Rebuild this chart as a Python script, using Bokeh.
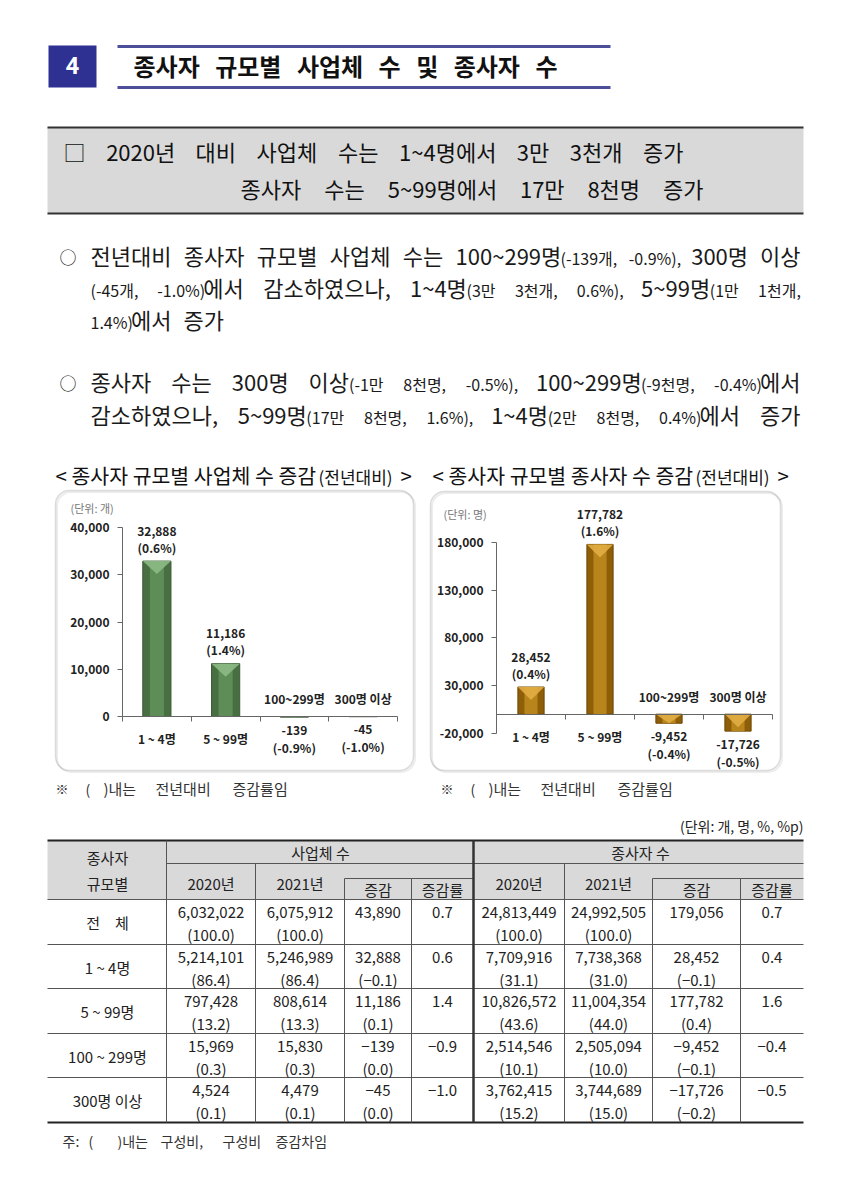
from bokeh.plotting import figure
from bokeh.models import (Range1d, LinearAxis, FixedTicker, NumeralTickFormatter,
                          BoxAnnotation, Spacer, ColumnDataSource)
from bokeh.layouts import column, row
from bokeh.core.properties import value
from bokeh.embed import file_html
from bokeh.resources import INLINE

KR = "Noto Sans CJK KR"

# ---------------- data ----------------
chart_categories = ["1 ~ 4명", "5 ~ 99명", "100~299명", "300명 이상"]
table_rows = ["전\u3000체", "1 ~ 4명", "5 ~ 99명", "100 ~ 299명", "300명 이상"]

biz_2020 = [6032022, 5214101, 797428, 15969, 4524]
biz_2020_share = [100.0, 86.4, 13.2, 0.3, 0.1]
biz_2021 = [6075912, 5246989, 808614, 15830, 4479]
biz_2021_share = [100.0, 86.4, 13.3, 0.3, 0.1]
biz_change = [43890, 32888, 11186, -139, -45]
biz_change_share = [None, -0.1, 0.1, 0.0, 0.0]
biz_rate = [0.7, 0.6, 1.4, -0.9, -1.0]

emp_2020 = [24813449, 7709916, 10826572, 2514546, 3762415]
emp_2020_share = [100.0, 31.1, 43.6, 10.1, 15.2]
emp_2021 = [24992505, 7738368, 11004354, 2505094, 3744689]
emp_2021_share = [100.0, 31.0, 44.0, 10.0, 15.0]
emp_change = [179056, 28452, 177782, -9452, -17726]
emp_change_share = [None, -0.1, 0.4, -0.1, -0.2]
emp_rate = [0.7, 0.4, 1.6, -0.4, -0.5]

biz_ticks = [0, 10000, 20000, 30000, 40000]
emp_ticks = [-20000, 30000, 80000, 130000, 180000]


# ---------------- helpers ----------------
def est(s, size):
    w = 0.0
    for ch in s:
        o = ord(ch)
        if 0xAC00 <= o <= 0xD7A3:
            w += 0.92
        elif ch in "○□※\u3000":
            w += 1.0
        elif ch.isdigit():
            w += 0.55
        elif ch in ",.:":
            w += 0.26
        elif ch in "()":
            w += 0.33
        elif ch == "-":
            w += 0.34
        elif ch == "%":
            w += 0.84
        elif ch == "~":
            w += 0.55
        elif ch == " ":
            w += 0.22
        else:
            w += 0.55
    return w * size


def txt(p, x, y, s, size, color="#1a1a1a", align="left", bold=False,
        font=KR, baseline="middle"):
    p.text(x=[x], y=[y], text=[s], text_font=value(font),
           text_font_size=f"{size}px", text_color=color, text_align=align,
           text_baseline=baseline,
           text_font_style="bold" if bold else "normal")


def justify(p, tokens, x0, x1, y_center, main_size, color="#1a1a1a",
            bold=False, gap=None):
    widths = [sum(est(t, s) for t, s in tok) for tok in tokens]
    n = len(tokens)
    if gap is None:
        gap = (x1 - x0 - sum(widths)) / (n - 1)
    x = x0
    for tok, w in zip(tokens, widths):
        cx = x
        for t, s in tok:
            # bottom-align smaller pieces with the main text
            yy = y_center - 2.5 + 0.45 * (main_size - s)
            txt(p, cx, yy, t, s, color, bold=bold)
            cx += est(t, s)
        x += w + gap


def fint(v):
    s = f"{abs(v):,}"
    return "\u2212" + s if v < 0 else s


def fshare(v):
    s = f"{abs(v):.1f}"
    return f"(\u2212{s})" if v < 0 else f"({s})"


def frate(v):
    s = f"{abs(v):.1f}"
    return "\u2212" + s if v < 0 else s


def blank(width, height, xr, yr):
    p = figure(width=width, height=height, x_range=Range1d(*xr),
               y_range=Range1d(*yr), output_backend="svg",
               toolbar_location=None, min_border=0,
               x_axis_location=None, y_axis_location=None,
               outline_line_color=None, background_fill_color="white",
               border_fill_color="white")
    p.xgrid.visible = False
    p.ygrid.visible = False
    return p


# ---------------- top section (page pixel coordinates) ----------------
TOP_H = 452
top = blank(850, TOP_H, (0, 850), (TOP_H, 0))

top.quad(left=[48], right=[96], top=[45], bottom=[87], fill_color="#2e3192",
         line_color=None)
txt(top, 72, 65, "4", 24, color="white", align="center", bold=True, font="Roboto")
top.segment(x0=[117, 117], y0=[46, 87], x1=[610, 610], y1=[46, 87],
            line_color="#4d4f9a", line_width=3)
T = 24
justify(top, [[("종사자", T)], [("규모별", T)], [("사업체", T)], [("수", T)],
              [("및", T)], [("종사자", T)], [("수", T)]],
        133, 557, 67, T, color="#111", bold=True)

top.quad(left=[47], right=[803], top=[127], bottom=[213], fill_color="#d9d9d9",
         line_color=None)
top.segment(x0=[47, 47], y0=[127, 213], x1=[803, 803], y1=[127, 213],
            line_color="#333", line_width=2)
H = 22
justify(top, [[("□", H)], [("2020년", H)], [("대비", H)], [("사업체", H)],
              [("수는", H)], [("1~4명에서", H)], [("3만", H)], [("3천개", H)],
              [("증가", H)]], 63, 683, 153, H, color="#111")
justify(top, [[("종사자", H)], [("수는", H)], [("5~99명에서", H)], [("17만", H)],
              [("8천명", H)], [("증가", H)]], 240, 703, 190, H, color="#111")

B, S = 22, 16
txt(top, 59, 256, "○", 17)
justify(top, [[("전년대비", B)], [("종사자", B)], [("규모별", B)], [("사업체", B)],
              [("수는", B)], [("100~299명", B), ("(-139개,", S)], [("-0.9%),", S)],
              [("300명", B)], [("이상", B)]], 90, 800, 257, B)
justify(top, [[("(-45개,", S)], [("-1.0%)", S), ("에서", B)], [("감소하였으나,", B)],
              [("1~4명", B), ("(3만", S)], [("3천개,", S)], [("0.6%),", S)],
              [("5~99명", B), ("(1만", S)], [("1천개,", S)]], 90, 800, 289, B)
justify(top, [[("1.4%)", S), ("에서", B)], [("증가", B)]], 90, 800, 321, B, gap=12)

txt(top, 59, 382, "○", 17)
justify(top, [[("종사자", B)], [("수는", B)], [("300명", B)], [("이상", B), ("(-1만", S)],
              [("8천명,", S)], [("-0.5%),", S)], [("100~299명", B), ("(-9천명,", S)],
              [("-0.4%)", S), ("에서", B)]], 90, 800, 383, B)
justify(top, [[("감소하였으나,", B)], [("5~99명", B), ("(17만", S)], [("8천명,", S)],
              [("1.6%),", S)], [("1~4명", B), ("(2만", S)], [("8천명,", S)],
              [("0.4%)", S), ("에서", B)], [("증가", B)]], 90, 800, 416, B)


# ---------------- charts ----------------
ROW_TOP, ROW_BOT = TOP_H, 774


def make_chart(vals, rates, fx, ox, oy, sx, sy, panel, ybounds, yticks,
               bar_w, c_dark, c_mid, c_tri, c_edge, title, unit_text, unit_px):
    X = lambda px: (px - ox) / sx
    Y = lambda py: (oy - py) / sy
    p = blank(fx[1] - fx[0], ROW_BOT - ROW_TOP, (X(fx[0]), X(fx[1])),
              (Y(ROW_BOT), Y(ROW_TOP)))
    for dx, col, lw in [(1.5, "#c4c4c4", 2.0), (0.0, "#8a8a8a", 1.5)]:
        kw = dict(left=X(panel[0] + dx), right=X(panel[1] + dx),
                  top=Y(panel[2] + dx), bottom=Y(panel[3] + dx),
                  fill_alpha=0, line_color=col, line_width=lw)
        try:
            box = BoxAnnotation(border_radius=14, **kw)
        except Exception:
            box = BoxAnnotation(**kw)
        p.add_layout(box)

    # title above the panel
    for t, tx, size in title:
        txt(p, X(tx), Y(474 + 0.45 * (20.5 - size)), t, size, color="#111")

    xs = [i + 0.5 for i in range(len(vals))]
    src = ColumnDataSource(dict(x=xs, top=vals))
    p.vbar(x="x", top="top", bottom=0, width=bar_w, source=src,
           fill_color=c_dark, line_color=c_edge, line_width=1)
    p.vbar(x="x", top="top", bottom=0, width=bar_w * 0.5, source=src,
           fill_color=c_mid, line_color=None)
    txs, tys = [], []
    for x, v in zip(xs, vals):
        topv = max(v, 0)
        h = min(13 / sy, abs(v))
        txs.append([x - bar_w / 2, x + bar_w / 2, x])
        tys.append([topv, topv, topv - h])
    p.patches(xs=txs, ys=tys, fill_color=c_tri, line_color=None, fill_alpha=0.9)

    xa = LinearAxis(fixed_location=0, bounds=(0, len(vals)),
                    ticker=FixedTicker(ticks=list(range(len(vals) + 1))),
                    major_tick_out=5, major_tick_in=0, minor_tick_out=0,
                    minor_tick_in=0, major_label_text_color=None,
                    axis_line_color="#666", major_tick_line_color="#666")
    p.add_layout(xa, "below")
    ya = LinearAxis(fixed_location=0, bounds=ybounds,
                    ticker=FixedTicker(ticks=yticks),
                    formatter=NumeralTickFormatter(format="0,0"),
                    major_tick_out=5, major_tick_in=0, minor_tick_out=0,
                    minor_tick_in=0, major_label_standoff=8,
                    major_label_text_font=KR, major_label_text_font_size="12px",
                    major_label_text_font_style="bold",
                    major_label_text_color="#222",
                    axis_line_color="#666", major_tick_line_color="#666")
    p.add_layout(ya, "left")

    pos = [(x, v, r) for x, v, r in zip(xs, vals, rates) if v >= 0]
    neg = [(x, v, r) for x, v, r in zip(xs, vals, rates) if v < 0]
    common = dict(text_font=value(KR), text_font_size="12px",
                  text_font_style="bold", text_color="#222",
                  text_align="center", text_baseline="middle")
    if pos:
        px_, pv, pr = zip(*pos)
        p.text(x=list(px_), y=list(pv), text=[f"{v:,}" for v in pv], y_offset=-30, **common)
        p.text(x=list(px_), y=list(pv), text=[f"({r:.1f}%)" for r in pr], y_offset=-14, **common)
    if neg:
        nx, nv, nr = zip(*neg)
        p.text(x=list(nx), y=list(nv), text=[f"{v:,}" for v in nv], y_offset=13, **common)
        p.text(x=list(nx), y=list(nv), text=[f"({r:.1f}%)" for r in nr], y_offset=30, **common)
    cat_pos = [(x, c) for x, c, v in zip(xs, chart_categories, vals) if v >= 0]
    cat_neg = [(x, c) for x, c, v in zip(xs, chart_categories, vals) if v < 0]
    if cat_pos:
        cx, cc = zip(*cat_pos)
        p.text(x=list(cx), y=[0] * len(cx), text=list(cc), y_offset=22, **common)
    if cat_neg:
        cx, cc = zip(*cat_neg)
        p.text(x=list(cx), y=[0] * len(cx), text=list(cc), y_offset=-18, **common)

    p.text(x=[X(unit_px[0])], y=[Y(unit_px[1])], text=[unit_text],
           text_font=value(KR), text_font_size="11px", text_color="#777",
           text_baseline="middle")
    return p


c1 = make_chart(biz_change[1:], biz_rate[1:], (45, 420), 122, 716, 68.75, 0.004725,
                (55, 413, 490, 770), (0, 40000), biz_ticks, 0.41,
                "#476f41", "#5f8d58", "#8dba86", "#3a5a35",
                [("< 종사자 규모별 사업체 수 증감", 55, 20.5), ("(전년대비)", 318, 17),
                 (">", 400, 20.5)],
                "(단위: 개)", (70, 507))
c2 = make_chart(emp_change[1:], emp_rate[1:], (425, 800), 496, 713.7, 69.0, 0.000955,
                (430, 780, 491, 770), (-20000, 180000), emp_ticks, 0.38,
                "#8f5e08", "#b8841c", "#e2ad42", "#6e4704",
                [("< 종사자 규모별 종사자 수 증감", 432, 20.5), ("(전년대비)", 695, 17),
                 (">", 777, 20.5)],
                "(단위: 명)", (443, 513))

RH = ROW_BOT - ROW_TOP
mid = row(Spacer(width=45, height=RH), c1, Spacer(width=5, height=RH), c2,
          Spacer(width=40, height=RH))


# ---------------- table (page pixel coordinates) ----------------
tb = blank(850, 410, (0, 850), (1184, ROW_BOT))

for x0 in (55, 440):
    txt(tb, x0, 788, "※", 13, color="#333", align="left")
    txt(tb, x0 + 30, 788, "(", 14, color="#333", align="left")
    txt(tb, x0 + 48, 788, ")내는", 15, color="#333", align="left")
    txt(tb, x0 + 100, 788, "전년대비", 15, color="#333", align="left")
    txt(tb, x0 + 177, 788, "증감률임", 15, color="#333", align="left")

txt(tb, 803, 825, "(단위: 개, 명, %, %p)", 14, color="#222", align="right")

tb.quad(left=[47], right=[803], top=[840], bottom=[899], fill_color="#d9d9d9",
        line_color=None)
hl_x0 = [47, 166, 344, 652, 47, 47, 47, 47]
hl_x1 = [803, 803, 473, 803, 803, 803, 803, 803]
hl_y = [899, 863, 878, 878, 944, 988, 1033, 1077]
tb.segment(x0=hl_x0, y0=hl_y, x1=hl_x1, y1=hl_y, line_color="#555", line_width=1)
tb.segment(x0=[47, 47], y0=[840, 1122], x1=[803, 803], y1=[840, 1122],
           line_color="#222", line_width=2.2)
vx = [166, 255, 564, 344, 411, 652, 740]
vy0 = [840, 863, 863, 878, 878, 878, 878]
tb.segment(x0=vx, y0=vy0, x1=vx, y1=[1122] * len(vx), line_color="#555", line_width=1)
tb.segment(x0=[473], y0=[840], x1=[473], y1=[1122], line_color="#333", line_width=2.5)

hc = "#222"
txt(tb, 107, 857, "종사자", 15, hc, "center")
txt(tb, 107, 883, "규모별", 15, hc, "center")
txt(tb, 320, 852, "사업체 수", 15, hc, "center")
txt(tb, 640, 852, "종사자 수", 15, hc, "center")
cx = [210.5, 299.5, 377.5, 442, 518.5, 608, 696, 771.5]
for i, lab in enumerate(["2020년", "2021년", "증감", "증감률"] * 2):
    yy = 883 if i % 4 < 2 else 889
    txt(tb, cx[i], yy, lab, 15, hc, "center")

row_tops = [899, 944, 988, 1033, 1077]
cols = [
    (biz_2020, biz_2020_share), (biz_2021, biz_2021_share),
    (biz_change, biz_change_share), (biz_rate, None),
    (emp_2020, emp_2020_share), (emp_2021, emp_2021_share),
    (emp_change, emp_change_share), (emp_rate, None),
]
for r, t in enumerate(row_tops):
    txt(tb, 107, t + 23, table_rows[r], 15, hc, "center")
    for c, (vals, shares) in enumerate(cols):
        v = vals[r]
        first = frate(v) if shares is None else fint(v)
        txt(tb, cx[c], t + 13, first, 15, hc, "center")
        if shares is not None and shares[r] is not None:
            txt(tb, cx[c], t + 35, fshare(shares[r]), 15, hc, "center")

txt(tb, 62, 1140, "주:", 14, "#333")
txt(tb, 88, 1140, "(", 14, "#333")
txt(tb, 117, 1140, ")내는", 14, "#333")
txt(tb, 160, 1140, "구성비,", 14, "#333")
txt(tb, 222, 1140, "구성비", 14, "#333")
txt(tb, 275, 1140, "증감차임", 14, "#333")

page = column(top, mid, tb)
open("out.html", "w").write(file_html(page, INLINE))
